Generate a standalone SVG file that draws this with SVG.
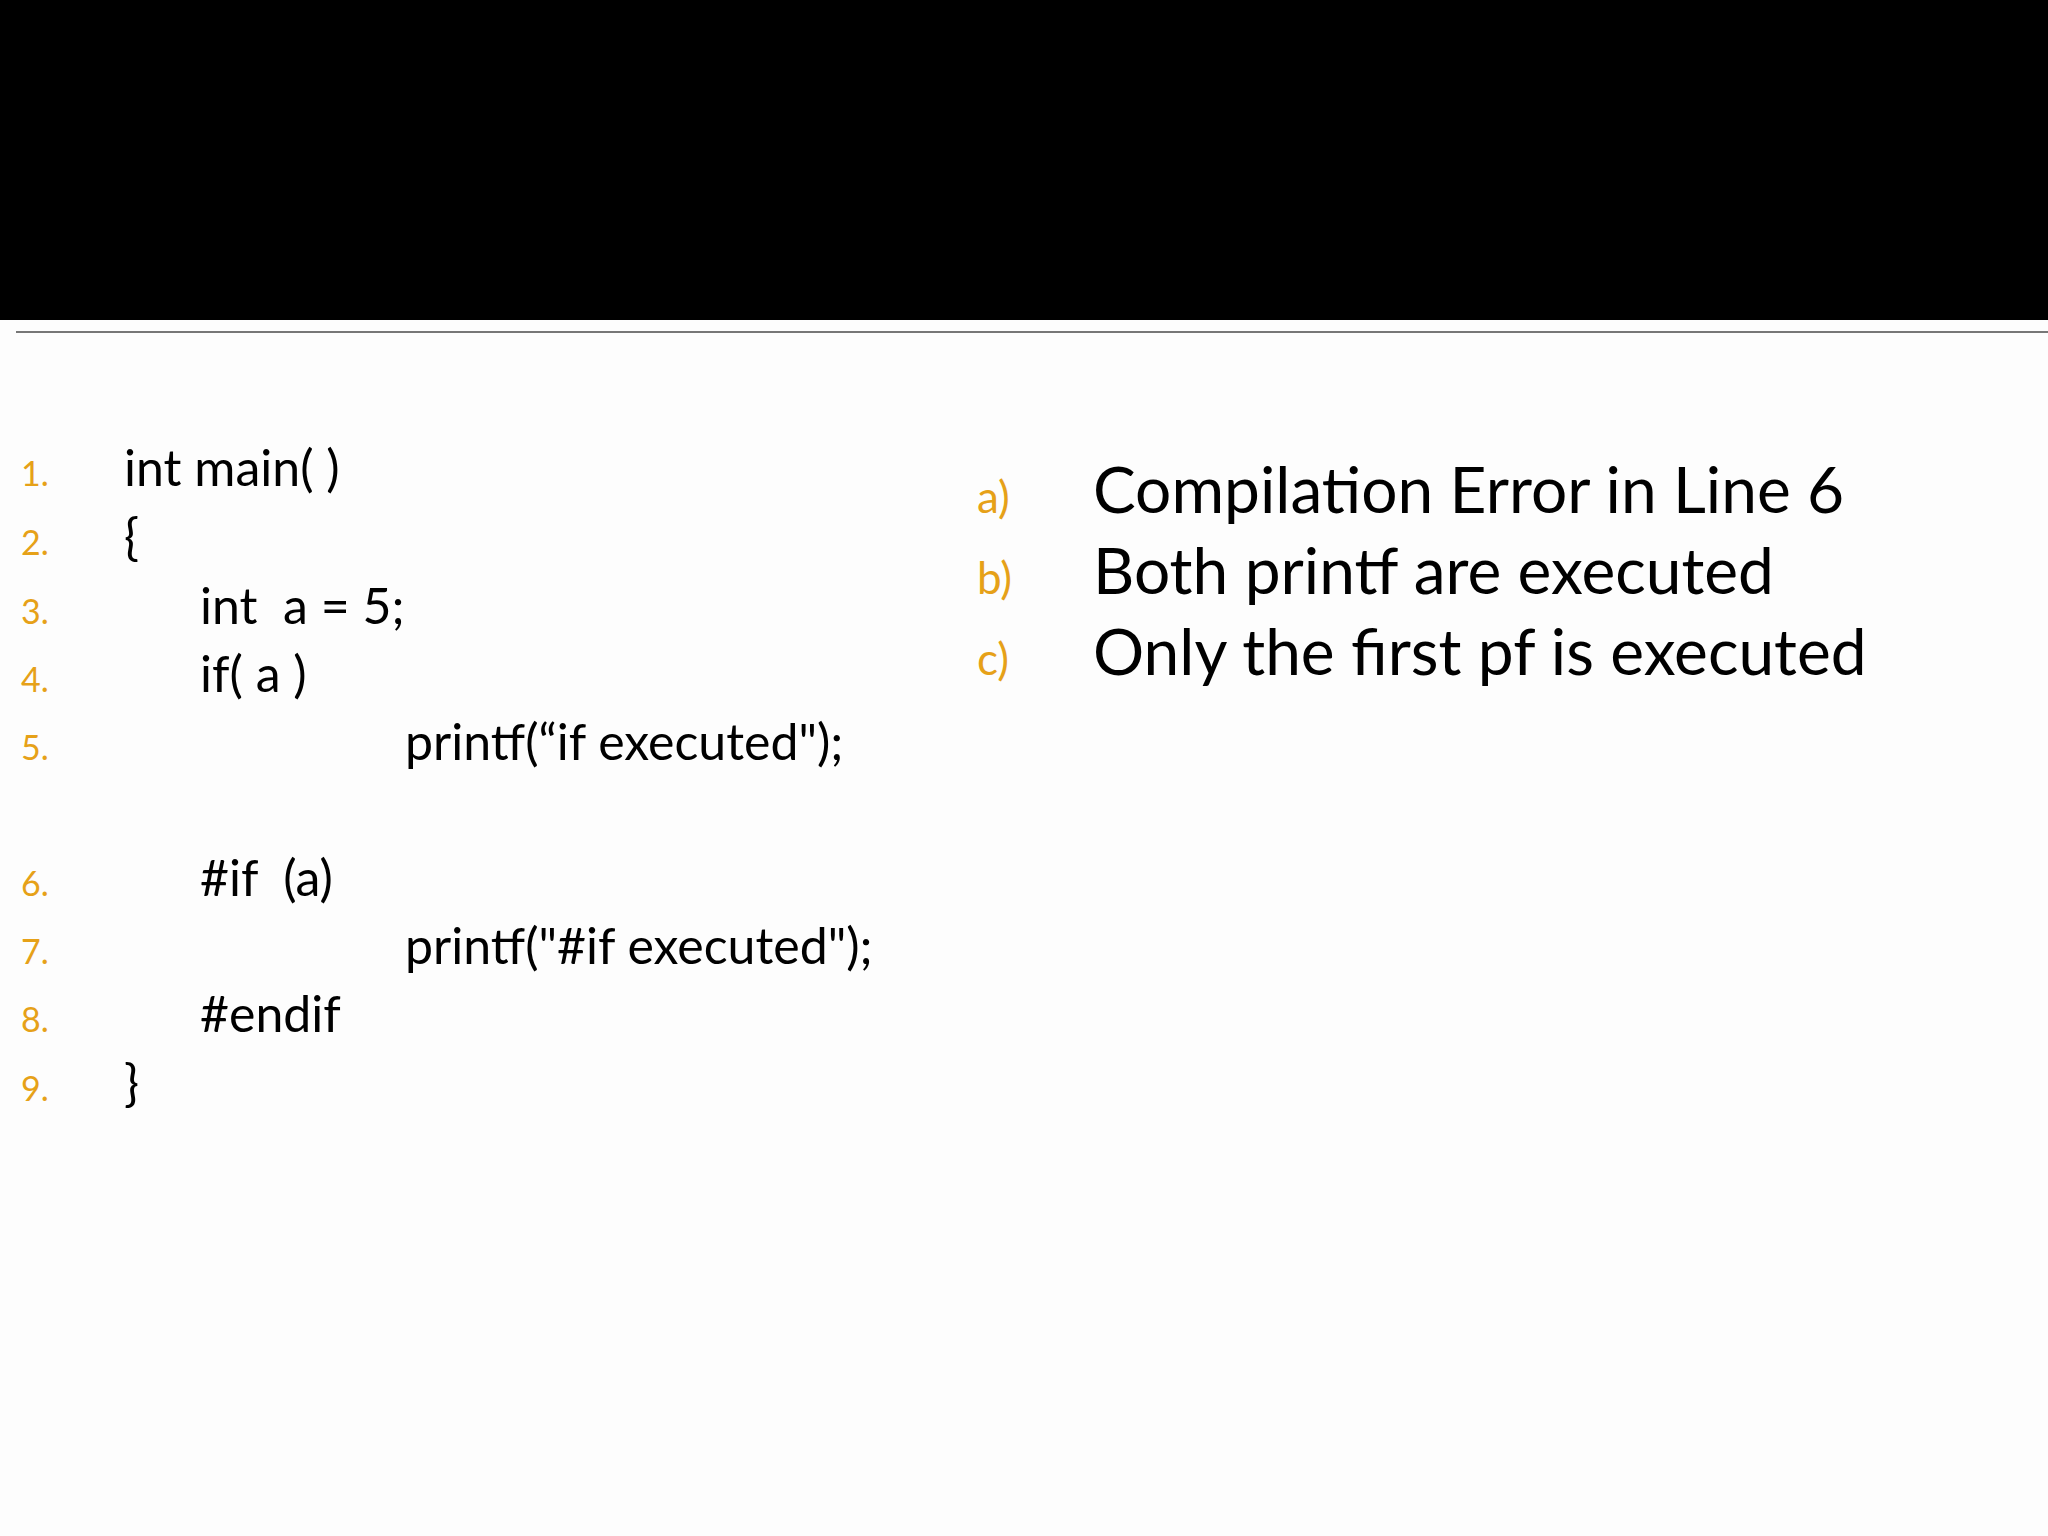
<svg xmlns="http://www.w3.org/2000/svg" width="2048" height="1536" viewBox="0 0 2048 1536">
<style>
.n{font-family:Lato,"Open Sans",sans-serif;font-size:34px;fill:#e6a118}
.c{font-family:Lato,"Open Sans",sans-serif;font-size:50px;fill:#000}
.l{font-family:Lato,"Open Sans",sans-serif;font-size:44px;fill:#e6a118}
.o{font-family:Lato,"Open Sans",sans-serif;font-size:64px;fill:#000}
</style>
<rect width="2048" height="1536" fill="#fdfdfd"/>
<rect width="2048" height="320" fill="#000"/>
<line x1="16" y1="332" x2="2048" y2="332" stroke="#777" stroke-width="2"/>
<g id="code">
<text class="n" x="21" y="486">1.</text><text class="c" x="124" y="486">int main( )</text>
<text class="n" x="21" y="555">2.</text><text class="c" x="124" y="555">{</text>
<text class="n" x="21" y="624">3.</text><text class="c" x="200" y="624" xml:space="preserve">int  a = 5;</text>
<text class="n" x="21" y="692">4.</text><text class="c" x="200" y="692">if( a )</text>
<text class="n" x="21" y="760">5.</text><text class="c" x="405" y="760">printf(“if executed");</text>
<text class="n" x="21" y="896">6.</text><text class="c" x="200" y="896" xml:space="preserve">#if  (a)</text>
<text class="n" x="21" y="964">7.</text><text class="c" x="405" y="964">printf("#if executed");</text>
<text class="n" x="21" y="1032">8.</text><text class="c" x="200" y="1032">#endif</text>
<text class="n" x="21" y="1101">9.</text><text class="c" x="124" y="1101">}</text>
</g>
<g id="options">
<text class="l" x="977" y="513">a)</text><text class="o" x="1093" y="513">Compilation Error in Line 6</text>
<text class="l" x="977" y="594">b)</text><text class="o" x="1093" y="594">Both printf are executed</text>
<text class="l" x="977" y="675">c)</text><text class="o" x="1093" y="675">Only the first pf is executed</text>
</g>
</svg>
